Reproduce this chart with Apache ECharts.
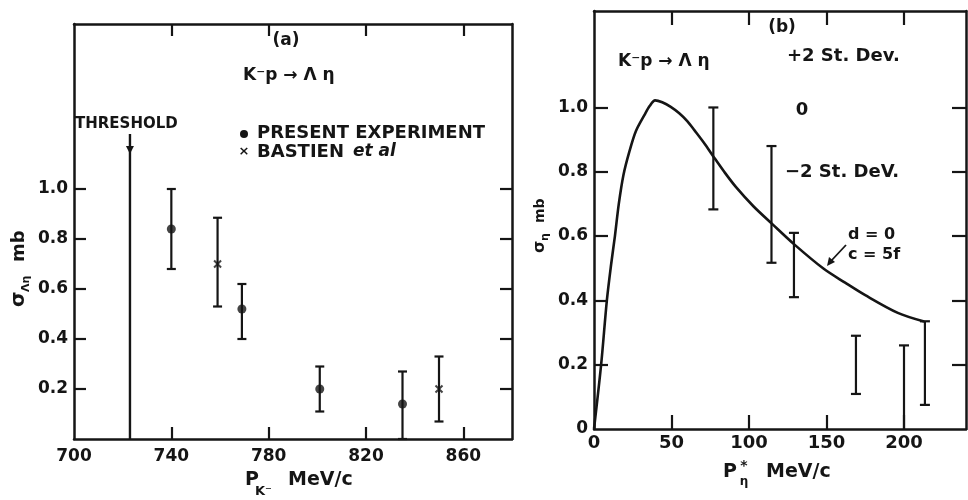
<!DOCTYPE html>
<html><head><meta charset="utf-8">
<script src="https://cdn.jsdelivr.net/npm/echarts@6/dist/echarts.min.js"></script>
<style>html,body{margin:0;padding:0;background:#fff}#c{width:968px;height:500px}</style>
</head><body><div id="c"></div>
<script>
// ---------- Panel (a) data ----------
const aXTicks = [740, 780, 820, 860];
const aXLabels = [700, 740, 780, 820, 860];
const aYTicks = [0.2, 0.4, 0.6, 0.8, 1.0];
const presentX = [740, 769, 801, 835];
const presentY = [0.84, 0.52, 0.20, 0.14];
const presentLow = [0.68, 0.40, 0.11, 0.0];
const presentHigh = [1.00, 0.62, 0.29, 0.27];
const bastienX = [759, 850];
const bastienY = [0.70, 0.20];
const bastienLow = [0.53, 0.07];
const bastienHigh = [0.885, 0.33];
const thresholdX = 723;
const thresholdTop = 1.22;
const thresholdArrowTip = 1.14;
// ---------- Panel (b) data ----------
const bXTicks = [50, 100, 150, 200];
const bXLabels = [0, 50, 100, 150, 200];
const bYTicks = [0.2, 0.4, 0.6, 0.8, 1.0];
const bYLabels = [0, 0.2, 0.4, 0.6, 0.8, 1.0];
const curveX = [0, 4.6, 8.3, 11, 13.5, 16, 19, 22.9, 27, 32.6, 36, 39.4, 44, 49.5, 55, 60.3, 65, 70.8, 77.1, 84, 91.5, 103, 114.9, 129, 148, 162, 175, 196, 213];
const curveY = [0, 0.2, 0.4, 0.51, 0.6, 0.7, 0.79, 0.864, 0.926, 0.977, 1.005, 1.022, 1.016, 1.002, 0.982, 0.957, 0.928, 0.891, 0.847, 0.8, 0.753, 0.692, 0.638, 0.575, 0.499, 0.455, 0.416, 0.361, 0.334];
const bErrX = [77, 114.5, 129, 169, 200, 213.5];
const bErrLow = [0.683, 0.517, 0.41, 0.109, 0.0, 0.075];
const bErrHigh = [1.0, 0.88, 0.61, 0.29, 0.26, 0.335];

const INK = '#151515';
const FONT = 'DejaVu Sans';

const chart = echarts.init(document.getElementById('c'), null, {renderer: 'canvas'});

function zip3(a, b, c) { return a.map((v, i) => [v, b[i], c[i]]); }
function zip2(a, b) { return a.map((v, i) => [v, b[i]]); }

function errRender(capW, capAtZero) {
  return function (params, api) {
    const x = api.value(0), lo = api.value(1), hi = api.value(2);
    const p1 = api.coord([x, lo]), p2 = api.coord([x, hi]);
    const st = {stroke: INK, lineWidth: 2.2};
    const ch = [
      {type: 'line', shape: {x1: p1[0], y1: p1[1], x2: p2[0], y2: p2[1]}, style: st},
      {type: 'line', shape: {x1: p2[0] - capW, y1: p2[1], x2: p2[0] + capW, y2: p2[1]}, style: st}
    ];
    if (lo > 0 || capAtZero) {
      ch.push({type: 'line', shape: {x1: p1[0] - capW, y1: p1[1], x2: p1[0] + capW, y2: p1[1]}, style: st});
    }
    return {type: 'group', children: ch};
  };
}

function axisCommon() {
  return {
    type: 'value',
    axisLine: {show: true, onZero: false, lineStyle: {color: INK, width: 2.5}},
    splitLine: {show: false}
  };
}
function lbl(size) {
  return {color: INK, fontFamily: FONT, fontWeight: 'bold', fontSize: size};
}

const option = {
  backgroundColor: '#fff',
  animation: false,
  grid: [
    {left: 74, top: 24, width: 438, height: 415},
    {left: 594, top: 11, width: 372, height: 418}
  ],
  xAxis: [
    Object.assign(axisCommon(), {gridIndex: 0, min: 700, max: 880, position: 'bottom',
      axisTick: {show: true, inside: true, length: 12, customValues: aXTicks, lineStyle: {color: INK, width: 2.2}},
      axisLabel: Object.assign(lbl(17), {customValues: aXLabels, margin: 9})}),
    Object.assign(axisCommon(), {gridIndex: 0, min: 700, max: 880, position: 'top',
      axisTick: {show: true, inside: true, length: 12, customValues: aXTicks, lineStyle: {color: INK, width: 2.2}},
      axisLabel: {show: false}}),
    Object.assign(axisCommon(), {gridIndex: 1, min: 0, max: 240, position: 'bottom',
      axisTick: {show: true, inside: true, length: 14, customValues: bXTicks, lineStyle: {color: INK, width: 2.2}},
      axisLabel: Object.assign(lbl(18), {customValues: bXLabels, margin: 5, formatter: v => String(v)})}),
    Object.assign(axisCommon(), {gridIndex: 1, min: 0, max: 240, position: 'top',
      axisTick: {show: true, inside: true, length: 14, customValues: bXTicks, lineStyle: {color: INK, width: 2.2}},
      axisLabel: {show: false}})
  ],
  yAxis: [
    Object.assign(axisCommon(), {gridIndex: 0, min: 0, max: 1.66, position: 'left',
      axisTick: {show: true, inside: true, length: 12, customValues: aYTicks, lineStyle: {color: INK, width: 2.2}},
      axisLabel: Object.assign(lbl(17), {customValues: aYTicks, margin: 6, formatter: v => v.toFixed(1)})}),
    Object.assign(axisCommon(), {gridIndex: 0, min: 0, max: 1.66, position: 'right',
      axisTick: {show: true, inside: true, length: 12, customValues: aYTicks, lineStyle: {color: INK, width: 2.2}},
      axisLabel: {show: false}}),
    Object.assign(axisCommon(), {gridIndex: 1, min: 0, max: 1.3, position: 'left',
      axisTick: {show: true, inside: true, length: 14, customValues: bYTicks, lineStyle: {color: INK, width: 2.2}},
      axisLabel: Object.assign(lbl(17), {customValues: bYLabels, margin: 6, formatter: v => v === 0 ? '0' : v.toFixed(1)})}),
    Object.assign(axisCommon(), {gridIndex: 1, min: 0, max: 1.3, position: 'right',
      axisTick: {show: true, inside: true, length: 14, customValues: bYTicks, lineStyle: {color: INK, width: 2.2}},
      axisLabel: {show: false}})
  ],
  series: [
    {type: 'custom', xAxisIndex: 0, yAxisIndex: 0, clip: false,
      data: [[thresholdX, thresholdTop, thresholdArrowTip]],
      encode: {x: 0, y: [1, 2]},
      renderItem: function (params, api) {
        const x = api.value(0);
        const b = api.coord([x, 0]), t = api.coord([x, api.value(1)]), a = api.coord([x, api.value(2)]);
        return {type: 'group', children: [
          {type: 'line', shape: {x1: b[0], y1: b[1], x2: t[0], y2: t[1]}, style: {stroke: INK, lineWidth: 2.4}},
          {type: 'polygon', shape: {points: [[a[0], a[1]], [a[0] - 4, a[1] - 8], [a[0] + 4, a[1] - 8]]}, style: {fill: INK}}
        ]};
      }},
    {type: 'custom', xAxisIndex: 0, yAxisIndex: 0, data: zip3(presentX, presentLow, presentHigh),
      encode: {x: 0, y: [1, 2]}, renderItem: errRender(4.5, true)},
    {type: 'custom', xAxisIndex: 0, yAxisIndex: 0, data: zip3(bastienX, bastienLow, bastienHigh),
      encode: {x: 0, y: [1, 2]}, renderItem: errRender(4.5, true)},
    {type: 'scatter', xAxisIndex: 0, yAxisIndex: 0, data: zip2(presentX, presentY),
      symbol: 'circle', symbolSize: 9, itemStyle: {color: INK}},
    {type: 'scatter', xAxisIndex: 0, yAxisIndex: 0, data: zip2(bastienX, bastienY),
      symbol: 'path://M0,0L10,10M10,0L0,10', symbolSize: 7,
      itemStyle: {color: 'none', borderColor: INK, borderWidth: 2}},
    {type: 'line', xAxisIndex: 2, yAxisIndex: 2, data: zip2(curveX, curveY), smooth: 0.3,
      showSymbol: false, symbol: 'none', lineStyle: {color: INK, width: 2.6}},
    {type: 'custom', xAxisIndex: 2, yAxisIndex: 2, data: zip3(bErrX, bErrLow, bErrHigh),
      encode: {x: 0, y: [1, 2]}, renderItem: errRender(5, false)}
  ],
  graphic: [
    {type: 'text', x: 286, y: 41, style: {text: '(a)', font: 'bold 17px ' + FONT, fill: INK, align: 'center', verticalAlign: 'middle'}},
    {type: 'text', x: 243, y: 76, style: {text: 'K⁻p → Λ η', font: 'bold 17px ' + FONT, fill: INK, align: 'left', verticalAlign: 'middle'}},
    {type: 'text', x: 75, y: 124, style: {text: 'THRESHOLD', font: 'bold 15px ' + FONT, fill: INK, align: 'left', verticalAlign: 'middle'}},
    {type: 'circle', shape: {cx: 244, cy: 134, r: 4}, style: {fill: INK}},
    {type: 'text', x: 257, y: 133, style: {text: 'PRESENT EXPERIMENT', font: 'bold 18px ' + FONT, fill: INK, align: 'left', verticalAlign: 'middle'}},
    {type: 'text', x: 244, y: 152, style: {text: '×', font: 'bold 13px ' + FONT, fill: INK, align: 'center', verticalAlign: 'middle'}},
    {type: 'text', x: 257, y: 152, style: {text: 'BASTIEN', font: 'bold 18px ' + FONT, fill: INK, align: 'left', verticalAlign: 'middle'}},
    {type: 'text', x: 353, y: 152, style: {text: 'et al', font: 'italic bold 17px ' + FONT, fill: INK, align: 'left', verticalAlign: 'middle'}},
    {type: 'text', x: 245, y: 480, style: {text: 'P', font: 'bold 19px ' + FONT, fill: INK, align: 'left', verticalAlign: 'middle'}},
    {type: 'text', x: 255, y: 492, style: {text: 'K⁻', font: 'bold 13px ' + FONT, fill: INK, align: 'left', verticalAlign: 'middle'}},
    {type: 'text', x: 288, y: 480, style: {text: 'MeV/c', font: 'bold 19px ' + FONT, fill: INK, align: 'left', verticalAlign: 'middle'}},
    {type: 'group', x: 19, y: 307, rotation: Math.PI / 2, children: [
      {type: 'text', x: 0, y: 0, style: {text: 'σ', font: 'bold 20px ' + FONT, fill: INK, align: 'left', verticalAlign: 'middle'}},
      {type: 'text', x: 15, y: 7, style: {text: 'Λη', font: 'bold 11px ' + FONT, fill: INK, align: 'left', verticalAlign: 'middle'}},
      {type: 'text', x: 45, y: 0, style: {text: 'mb', font: 'bold 18px ' + FONT, fill: INK, align: 'left', verticalAlign: 'middle'}}
    ]},
    {type: 'text', x: 782, y: 28, style: {text: '(b)', font: 'bold 17px ' + FONT, fill: INK, align: 'center', verticalAlign: 'middle'}},
    {type: 'text', x: 618, y: 62, style: {text: 'K⁻p → Λ η', font: 'bold 17px ' + FONT, fill: INK, align: 'left', verticalAlign: 'middle'}},
    {type: 'text', x: 787, y: 56, style: {text: '+2 St. Dev.', font: 'bold 18px ' + FONT, fill: INK, align: 'left', verticalAlign: 'middle'}},
    {type: 'text', x: 802, y: 110, style: {text: '0', font: 'bold 18px ' + FONT, fill: INK, align: 'center', verticalAlign: 'middle'}},
    {type: 'text', x: 785, y: 172, style: {text: '−2 St. DeV.', font: 'bold 18px ' + FONT, fill: INK, align: 'left', verticalAlign: 'middle'}},
    {type: 'text', x: 848, y: 235, style: {text: 'd = 0', font: 'bold 16px ' + FONT, fill: INK, align: 'left', verticalAlign: 'middle'}},
    {type: 'text', x: 848, y: 255, style: {text: 'c = 5f', font: 'bold 16px ' + FONT, fill: INK, align: 'left', verticalAlign: 'middle'}},
    {type: 'line', shape: {x1: 846, y1: 245, x2: 831, y2: 261}, style: {stroke: INK, lineWidth: 1.8}},
    {type: 'polygon', shape: {points: [[827, 266], [829, 257], [835, 262]]}, style: {fill: INK}},
    {type: 'text', x: 723, y: 472, style: {text: 'P', font: 'bold 19px ' + FONT, fill: INK, align: 'left', verticalAlign: 'middle'}},
    {type: 'text', x: 744, y: 466, style: {text: '*', font: 'bold 14px ' + FONT, fill: INK, align: 'center', verticalAlign: 'middle'}},
    {type: 'text', x: 744, y: 482, style: {text: 'η', font: 'bold 12px ' + FONT, fill: INK, align: 'center', verticalAlign: 'middle'}},
    {type: 'text', x: 766, y: 472, style: {text: 'MeV/c', font: 'bold 19px ' + FONT, fill: INK, align: 'left', verticalAlign: 'middle'}},
    {type: 'group', x: 540, y: 253, rotation: Math.PI / 2, children: [
      {type: 'text', x: 0, y: 0, style: {text: 'σ', font: 'bold 16px ' + FONT, fill: INK, align: 'left', verticalAlign: 'middle'}},
      {type: 'text', x: 12, y: 5, style: {text: 'η', font: 'bold 11px ' + FONT, fill: INK, align: 'left', verticalAlign: 'middle'}},
      {type: 'text', x: 30, y: 0, style: {text: 'mb', font: 'bold 14px ' + FONT, fill: INK, align: 'left', verticalAlign: 'middle'}}
    ]}
  ]
};
chart.setOption(option);
</script>
</body></html>
